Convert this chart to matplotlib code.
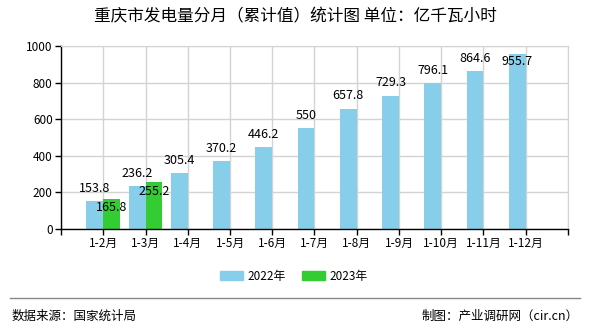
import matplotlib
matplotlib.use("Agg")
import matplotlib.pyplot as plt
from matplotlib.lines import Line2D

plt.rcParams['font.family'] = ['Noto Sans CJK SC', 'DejaVu Sans']

categories = ["1-2月", "1-3月", "1-4月", "1-5月", "1-6月", "1-7月",
              "1-8月", "1-9月", "1-10月", "1-11月", "1-12月"]
values_2022 = [153.8, 236.2, 305.4, 370.2, 446.2, 550, 657.8, 729.3,
               796.1, 864.6, 955.7]
values_2023 = [165.8, 255.2]
series_names = ["2022年", "2023年"]
yticks = [0, 200, 400, 600, 800, 1000]

color_2022 = "#87CEEB"
color_2023 = "#33CC33"
grid_color = "#D3D3D3"

fig = plt.figure(figsize=(5.9, 3.3), dpi=100)
ax = fig.add_axes([0.1034, 0.306, 0.8593, 0.5546])

positions = list(range(1, len(categories) + 1))
bw = 0.4
ymax = 1000

ax.bar([p - bw / 2 for p in positions], values_2022, width=bw,
       color=color_2022, zorder=2, label=series_names[0])
ax.bar([p + bw / 2 for p in positions[:len(values_2023)]], values_2023,
       width=bw, color=color_2023, zorder=2, label=series_names[1])

for p, v in zip(positions, values_2022):
    if v > 0.92 * ymax:
        # keep the label inside the plotting area near the top
        ax.annotate(f"{v:g}", (p - bw / 2, v), xytext=(0, -1),
                    textcoords="offset points", ha="center", va="top",
                    fontsize=9, zorder=4)
    else:
        ax.annotate(f"{v:g}", (p - bw / 2, v), xytext=(0, 4.5),
                    textcoords="offset points", ha="center", va="bottom",
                    fontsize=9, zorder=4)
for p, v in zip(positions, values_2023):
    ax.annotate(f"{v:g}", (p + bw / 2, v), xytext=(0, -2),
                textcoords="offset points", ha="center", va="top",
                fontsize=9, zorder=4)

ax.set_xlim(0, len(categories) + 1)
ax.set_ylim(0, ymax)
ax.set_yticks(yticks)
ax.set_yticklabels([str(t) for t in yticks], fontsize=8.5)

# Vertical grid at each category plus outer frame lines
ax.set_xticks([0] + positions + [len(categories) + 1])
ax.set_xticklabels([""] + categories + [""], fontsize=8.5)
ax.grid(True, color=grid_color, linewidth=1, zorder=0)
ax.set_axisbelow(True)

for side in ["top", "right"]:
    ax.spines[side].set_color(grid_color)
for side in ["left", "bottom"]:
    ax.spines[side].set_color("black")
    ax.spines[side].set_linewidth(1)
ax.tick_params(axis="both", length=4, width=1, color="black", pad=2)

fig.text(0.5, 0.948, "重庆市发电量分月（累计值）统计图 单位：亿千瓦小时",
         ha="center", va="center", fontsize=12)

handles = [plt.Rectangle((0, 0), 1, 1, color=color_2022),
           plt.Rectangle((0, 0), 1, 1, color=color_2023)]
fig.legend(handles, series_names, loc="center", bbox_to_anchor=(0.498, 0.163),
           ncol=2, frameon=False, fontsize=8.5, handlelength=1.9,
           handleheight=0.8, columnspacing=1.4, handletextpad=0.4)

fig.add_artist(Line2D([0.017, 0.983], [0.097, 0.097], transform=fig.transFigure,
                      color="#888888", linewidth=1))
fig.text(0.02, 0.042, "数据来源：国家统计局", ha="left", va="center", fontsize=9)
fig.text(0.98, 0.042, "制图：产业调研网（cir.cn）", ha="right", va="center",
         fontsize=9)

fig.savefig("out.png", dpi=100)
